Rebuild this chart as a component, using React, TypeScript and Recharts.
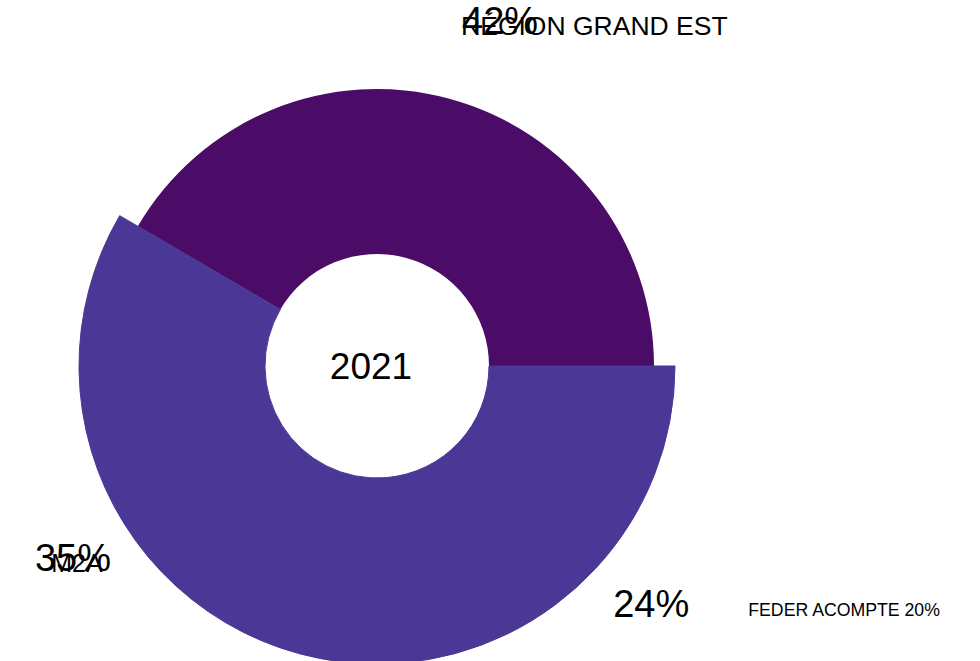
import { PieChart, Pie, Cell } from "recharts";

const names = ["RÉGION GRAND EST", "M2A", "FEDER ACOMPTE 20%"];
const values = [42, 35, 24];
const percentLabels = ["42%", "35%", "24%"];
const centerText = "2021";

const data = names.map((name, i) => ({ name, value: values[i], pct: percentLabels[i] }));

const DARK = "#4a0c66";
const LIGHT = "#4b3795";
const FONT = "'Liberation Sans', Arial, sans-serif";

// slice 0 sits on the smaller ring, the other two on the bigger one
const colors = [DARK, LIGHT, LIGHT];
const onBigRing = [false, true, true];

const RADIAN = Math.PI / 180;
const LABEL_R = 360;

// label tweaks relative to the point at LABEL_R on the slice's mid angle
const pctLayout = [
  { anchor: "start", dx: -9, dy: 2 },
  { anchor: "middle", dx: 1, dy: 1 },
  { anchor: "middle", dx: 10, dy: -6 },
];
const nameLayout = [
  { anchor: "start", dx: -10, dy: 7, size: 26.5 },
  { anchor: "middle", dx: 5, dy: 6, size: 25 },
  { anchor: "start", dx: 107, dy: 0, size: 17.7 },
];

function renderLabel(props: any) {
  const { cx, cy, midAngle, index } = props;
  const x = cx + LABEL_R * Math.cos(-midAngle * RADIAN);
  const y = cy + LABEL_R * Math.sin(-midAngle * RADIAN);
  const p = pctLayout[index];
  const n = nameLayout[index];
  return (
    <g>
      {index === 0 && (
        <text
          x={cx - 6}
          y={cy}
          textAnchor="middle"
          dominantBaseline="central"
          fontSize={37}
          fontFamily={FONT}
          fill="#000"
        >
          {centerText}
        </text>
      )}
      <text
        x={x + n.dx}
        y={y + n.dy}
        textAnchor={n.anchor}
        dominantBaseline="central"
        fontSize={n.size}
        fontFamily={FONT}
        fill="#000"
      >
        {data[index].name}
      </text>
      <text
        x={x + p.dx}
        y={y + p.dy}
        textAnchor={p.anchor}
        dominantBaseline="central"
        fontSize={38}
        fontFamily={FONT}
        fill="#000"
      >
        {data[index].pct}
      </text>
    </g>
  );
}

export default function App() {
  return (
    <div style={{ position: "absolute", left: 0, top: 0 }}>
      <PieChart width={980} height={661} margin={{ top: 0, right: 0, bottom: 0, left: 0 }}>
        <Pie
          data={data}
          dataKey="value"
          nameKey="name"
          cx={377}
          cy={366}
          innerRadius={112}
          outerRadius={277}
          startAngle={0}
          endAngle={360}
          stroke="none"
          isAnimationActive={false}
        >
          {data.map((_, i) => (
            <Cell key={`small-${i}`} fill={onBigRing[i] ? "none" : colors[i]} />
          ))}
        </Pie>
        <Pie
          data={data}
          dataKey="value"
          nameKey="name"
          cx={377}
          cy={366}
          innerRadius={112}
          outerRadius={298}
          startAngle={0}
          endAngle={360}
          labelLine={false}
          label={renderLabel}
          isAnimationActive={false}
        >
          {data.map((_, i) => (
            <Cell
              key={`big-${i}`}
              fill={onBigRing[i] ? colors[i] : "none"}
              stroke={onBigRing[i] ? colors[i] : "none"}
              strokeWidth={1}
            />
          ))}
        </Pie>
      </PieChart>
    </div>
  );
}
